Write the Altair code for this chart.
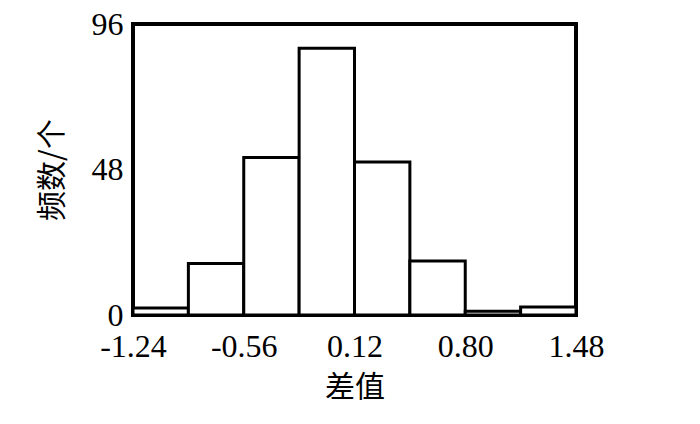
import altair as alt
import pandas as pd

bin_start = [-1.24, -0.90, -0.56, -0.22, 0.12, 0.46, 0.80, 1.14]
bin_end = [-0.90, -0.56, -0.22, 0.12, 0.46, 0.80, 1.14, 1.48]
counts = [2.3, 17, 52, 88, 50.5, 17.8, 1.2, 2.6]
x_ticks = [-1.24, -0.56, 0.12, 0.80, 1.48]
y_ticks = [0, 48, 96]

df = pd.DataFrame({"start": bin_start, "end": bin_end, "count": counts})

bars = alt.Chart(df).mark_bar(fill="white", stroke="black", strokeWidth=3).encode(
    x=alt.X("start:Q",
            scale=alt.Scale(domain=[-1.24, 1.48], nice=False, zero=False),
            axis=alt.Axis(values=x_ticks, title="差值", grid=False,
                          labelExpr="(datum.value < 0 ? '-' : '') + format(abs(datum.value), '.2f')",
                          domain=False, ticks=False, labelFlush=False, labelOverlap=False,
                          labelPadding=16, titlePadding=10)),
    x2="end:Q",
    y=alt.Y("count:Q",
            scale=alt.Scale(domain=[0, 96], nice=False),
            axis=alt.Axis(values=y_ticks, title="频数/个", grid=False, domain=False,
                          ticks=False, labelPadding=10, titlePadding=24)),
    y2=alt.datum(0),
)

chart = bars.properties(
    width=443, height=291,
    autosize=alt.AutoSizeParams(type="none"),
    padding={"left": 125, "top": 16, "right": 116, "bottom": 101},
).configure_view(
    stroke="black", strokeWidth=4
).configure_axis(
    labelFont="Liberation Serif", labelFontSize=32, labelColor="black",
    titleFont="Noto Sans CJK SC", titleFontSize=30, titleFontWeight="normal",
    titleColor="black",
)

chart.save("out.html", embed_options={"renderer": "svg", "actions": False})
